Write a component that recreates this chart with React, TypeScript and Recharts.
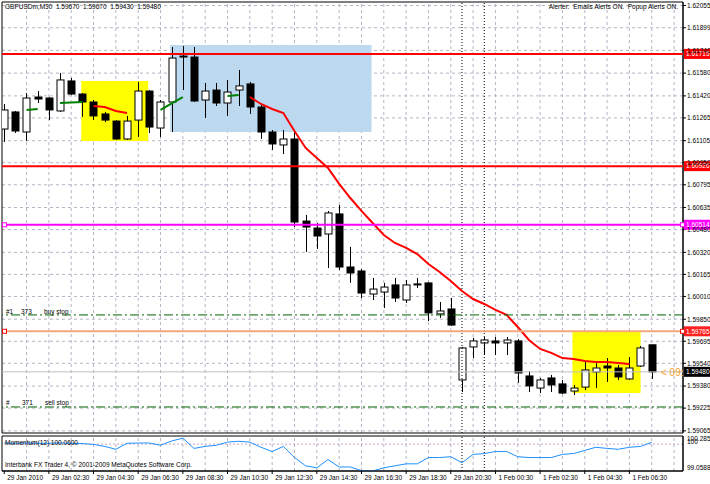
import React from 'react';
import { ComposedChart, Bar, Line, XAxis, YAxis, ReferenceLine, ReferenceArea } from 'recharts';

// GBPUSDm M30, 59 bars: 29 Jan 00:30 .. 1 Feb 07:30
const opens = [
  1.61187, 1.61307, 1.61166, 1.61412, 1.61405, 1.61314, 1.61525, 1.61433, 1.61377, 1.61293,
  1.61243, 1.61117, 1.6125, 1.61454, 1.61194, 1.61377, 1.61693, 1.61693, 1.61391, 1.61461,
  1.6137, 1.61461, 1.61504, 1.61342, 1.61166, 1.61075, 1.61117, 1.6054, 1.60491, 1.60449,
  1.6059, 1.60217, 1.60189, 1.60027, 1.60041, 1.60091, 1.59985, 1.60098, 1.60105, 1.59887,
  1.59922, 1.59423, 1.59655, 1.59683, 1.59697, 1.59683, 1.59697, 1.59451, 1.59366, 1.59437,
  1.59395, 1.59345, 1.59373, 1.59479, 1.59521, 1.59507, 1.5943, 1.59521, 1.5967,
];
const highs = [
  1.61363, 1.61314, 1.6144, 1.61454, 1.61412, 1.61581, 1.61546, 1.6144, 1.61391, 1.61307,
  1.6125, 1.61279, 1.61518, 1.61461, 1.61391, 1.61764, 1.61771, 1.61764, 1.61511, 1.61511,
  1.61532, 1.61602, 1.61518, 1.61356, 1.6118, 1.6118, 1.61173, 1.60583, 1.60526, 1.60611,
  1.60653, 1.60358, 1.60203, 1.6014, 1.60105, 1.6014, 1.60126, 1.6014, 1.60112, 1.59971,
  1.59999, 1.59655, 1.59718, 1.59725, 1.59725, 1.59725, 1.59711, 1.59486, 1.59437, 1.59458,
  1.59423, 1.59388, 1.59549, 1.59542, 1.59577, 1.59528, 1.59584, 1.59662, 1.5967,
];
const lows = [
  1.61096, 1.61159, 1.61103, 1.6137, 1.6125, 1.61307, 1.61426, 1.61272, 1.6125, 1.61236,
  1.6111, 1.6111, 1.61131, 1.61159, 1.61131, 1.61166, 1.61461, 1.61377, 1.61265, 1.61349,
  1.61279, 1.61349, 1.61293, 1.61117, 1.6104, 1.61011, 1.60498, 1.60323, 1.60344, 1.6021,
  1.60196, 1.60105, 1.59999, 1.59985, 1.59929, 1.59971, 1.59964, 1.60069, 1.59837, 1.59859,
  1.59802, 1.59338, 1.59577, 1.59598, 1.59598, 1.59598, 1.59402, 1.59338, 1.59331, 1.59338,
  1.59324, 1.59317, 1.59352, 1.59366, 1.59409, 1.59423, 1.59423, 1.59514, 1.5943,
];
const closes = [
  1.61321, 1.61173, 1.61405, 1.61398, 1.61321, 1.61532, 1.61433, 1.61377, 1.61279, 1.6125,
  1.61117, 1.61243, 1.61454, 1.61201, 1.61377, 1.61686, 1.617, 1.61384, 1.61454, 1.6137,
  1.61447, 1.6149, 1.61342, 1.61166, 1.61082, 1.61117, 1.60533, 1.60498, 1.60435, 1.60597,
  1.60217, 1.60175, 1.60034, 1.60062, 1.60076, 1.59999, 1.60091, 1.60095, 1.59894, 1.59908,
  1.59809, 1.59648, 1.59697, 1.59704, 1.59683, 1.59704, 1.59472, 1.59381, 1.59423, 1.59388,
  1.59331, 1.59366, 1.59493, 1.59507, 1.59507, 1.59444, 1.59507, 1.59648, 1.5948,
];

// trend indicator, drawn red while falling and green while rising (null = not drawn)
const redLine = [
  null, null, null, null, null, null, null, null, 1.61349, 1.61342,
  1.61314, 1.613, null, null, null, null, null, null, null, null,
  null, null, 1.61412, 1.61363, 1.61328, 1.613, 1.61173, 1.61054, 1.60983, 1.60913,
  1.60801, 1.60702, 1.60611, 1.60526, 1.60442, 1.60386, 1.60351, 1.60308, 1.60238, 1.60182,
  1.60119, 1.60048, 1.59992, 1.59957, 1.59915, 1.5988, 1.59795, 1.59704, 1.59641, 1.59613,
  1.59577, 1.5957, 1.59556, 1.59549, 1.59549, 1.59542, 1.59535, null, null,
];
const greenLine = [
  null, null, 1.61321, 1.61328, null, 1.6137, 1.61374, 1.61377, null, null,
  null, null, null, null, 1.61321, 1.61367, 1.61412, null, null, null,
  1.61419, 1.61426, null, null, null, null, null, null, null, null,
  null, null, null, null, null, null, null, null, null, null,
  null, null, null, null, null, null, null, null, null, null,
  null, null, null, null, null, null, null, null, null,
];

const momentum = [
  100.04, 100.03, 100.04, 100.03, 100.03, 100.04, 100.03, 100.02, 99.99, 99.92,
  99.82, 100.03, 100.04, 100.04, 99.96, 100.11, 100.21, 99.85, 99.92, 99.96,
  100.07, 100.1, 100.07, 99.89, 99.74, 99.92, 99.53, 99.24, 99.17, 99.46,
  99.2, 99.2, 99.07, 99.06, 99.17, 99.24, 99.31, 99.31, 99.53, 99.53,
  99.56, 99.35, 99.64, 99.67, 99.74, 99.74, 99.56, 99.53, 99.53, 99.53,
  99.64, 99.67, 99.78, 99.89, 99.85, 99.82, 99.89, 99.92, 100.06,
];

const priceTicks = [
  1.62055, 1.61899, 1.6174, 1.6158, 1.6142, 1.61265, 1.61105, 1.6095, 1.60795, 1.60635,
  1.6048, 1.6032, 1.60165, 1.6001, 1.5985, 1.59695, 1.5954, 1.5938, 1.59225, 1.59065,
];
const timeTickIdx = [0, 4, 8, 12, 16, 20, 24, 28, 32, 36, 40, 44, 48, 52, 56];
const timeTickLabels = [
  '29 Jan 2010', '29 Jan 02:30', '29 Jan 04:30', '29 Jan 06:30', '29 Jan 08:30',
  '29 Jan 10:30', '29 Jan 12:30', '29 Jan 14:30', '29 Jan 16:30', '29 Jan 18:30',
  '29 Jan 20:30', '1 Feb 00:30', '1 Feb 02:30', '1 Feb 04:30', '1 Feb 06:30',
];
const momTicks = [100.285, 100, 99.0588];
const momTickLabels = ['100.285', '100', '99.0588'];

// chart objects (time index / price anchors)
const yellowBox1 = [6.9, 12.9, 1.61525, 1.61103];
const blueBox = [14.86, 32.9, 1.61778, 1.61166];
const yellowBox2 = [50.9, 57.0, 1.59765, 1.59331];
const redLevels = [1.61715, 1.60926];
const magentaLevel = 1.60514;
const orangeLevel = 1.59765;
const buyStop = 1.5988;
const sellStop = 1.59233;
const bidPrice = 1.5948;
const separators = [41, 43];
const gridIdx = [2, 4, 6, 8, 10, 12, 14, 16, 18, 20, 22, 24, 26, 28, 30, 32, 34, 36, 38, 40, 42, 44, 46, 48, 50, 52, 54, 56, 58, 60];

const xDomain: [number, number] = [-0.2, 60.8];
const yDomain: [number, number] = [1.5905, 1.6208];
const momDomain: [number, number] = [99.0588, 100.285];

const font = '"Liberation Sans", Arial, sans-serif';
const gridColor = '#b4b4c6';

const bars = opens.map((o, i) => ({
  i,
  o,
  h: highs[i],
  l: lows[i],
  c: closes[i],
  range: [lows[i], highs[i]],
  red: redLine[i],
  green: greenLine[i],
}));
const momData = momentum.map((m, i) => ({ i, m }));

const Candle = (props: any) => {
  const { x, y, width, height, payload } = props;
  if (!payload || height == null) return null;
  const { o, h, l, c } = payload;
  const span = h - l || 1e-9;
  const py = (v: number) => y + ((h - v) / span) * height;
  const cx = Math.round(x + width / 2) + 0.5;
  const top = py(Math.max(o, c));
  const bot = py(Math.min(o, c));
  const up = c > o;
  return (
    <g>
      <line x1={cx} x2={cx} y1={y} y2={y + height} stroke="#000" strokeWidth={1} />
      <rect
        x={cx - 3.5}
        y={top}
        width={7}
        height={Math.max(bot - top, 1)}
        fill={up ? '#fff' : '#000'}
        stroke="#000"
        strokeWidth={1}
      />
    </g>
  );
};

const priceTag = (value: number, fill: string, handle?: string) => (props: any) => {
  const vb = props.viewBox || {};
  const x = vb.x ?? 0;
  const y = vb.y ?? 0;
  const right = x + (vb.width ?? 0);
  return (
    <g>
      {handle && <rect x={x + 0.5} y={y - 2} width={4} height={4} fill="#fff" stroke={handle} />}
      {handle && <rect x={right - 2.5} y={y - 2} width={4} height={4} fill="#fff" stroke={handle} />}
      <rect x={right + 1} y={y - 5} width={27} height={10} fill={fill} />
      <text x={right + 3} y={y} dy="0.36em" fill="#fff" fontSize={6.5} fontFamily={font}>
        {value.toFixed(5)}
      </text>
    </g>
  );
};

const PriceTick = (props: any) => {
  const { x, y, payload } = props;
  return (
    <text x={x} y={y} dy="0.36em" fontSize={6.5} fontFamily={font} fill="#000" textAnchor="start">
      {Number(payload.value).toFixed(5)}
    </text>
  );
};

const MomTick = (props: any) => {
  const { x, y, payload } = props;
  const k = momTicks.indexOf(payload.value);
  const shift = k === 0 ? 3 : k === 2 ? -3 : -2;
  return (
    <text x={x} y={y + shift} dy="0.36em" fontSize={6.5} fontFamily={font} fill="#000" textAnchor="start">
      {momTickLabels[k]}
    </text>
  );
};

const TimeTick = (props: any) => {
  const { x, y, payload } = props;
  const k = timeTickIdx.indexOf(payload.value);
  return (
    <text x={x + 3} y={y} dy="0.71em" fontSize={6.5} fontFamily={font} fill="#000" textAnchor="start">
      {timeTickLabels[k]}
    </text>
  );
};

const txt = (left: number, top: number, extra: React.CSSProperties = {}): React.CSSProperties => ({
  position: 'absolute',
  left,
  top,
  fontSize: 6.5,
  lineHeight: '8px',
  whiteSpace: 'pre',
  color: '#000',
  fontFamily: font,
  ...extra,
});

export default function App() {
  return (
    <div style={{ position: 'absolute', left: 0, top: 0, width: 710, height: 484, background: '#fff', overflow: 'hidden' }}>
      <div style={{ position: 'absolute', left: 0, top: 0 }}>
        <ComposedChart width={710} height={434} data={bars} margin={{ top: 2, right: 0, bottom: 1, left: 2 }}>
          <XAxis type="number" dataKey="i" domain={xDomain} hide allowDataOverflow />
          <YAxis
            type="number"
            orientation="right"
            width={27}
            domain={yDomain}
            ticks={priceTicks}
            interval={0}
            allowDataOverflow
            tick={<PriceTick />}
            tickSize={3}
            tickMargin={1}
            axisLine={{ stroke: '#000' }}
            tickLine={{ stroke: '#000' }}
          />
          {gridIdx.map((g) => (
            <ReferenceLine key={'vg' + g} x={g} stroke={gridColor} strokeDasharray="3 3" zIndex={-100} />
          ))}
          {priceTicks.map((p) => (
            <ReferenceLine key={'hg' + p} y={p} stroke={gridColor} strokeDasharray="3 3" zIndex={-100} />
          ))}
          <ReferenceArea x1={yellowBox1[0]} x2={yellowBox1[1]} y1={yellowBox1[2]} y2={yellowBox1[3]} fill="#ffff00" fillOpacity={1} />
          <ReferenceArea x1={blueBox[0]} x2={blueBox[1]} y1={blueBox[2]} y2={blueBox[3]} fill="#bcd9f0" fillOpacity={1} />
          <ReferenceArea x1={yellowBox2[0]} x2={yellowBox2[1]} y1={yellowBox2[2]} y2={yellowBox2[3]} fill="#ffff00" fillOpacity={1} />
          {separators.map((s) => (
            <ReferenceLine key={'sep' + s} x={s} stroke="#000" strokeDasharray="1 2" />
          ))}
          <ReferenceLine y={bidPrice} stroke="#c0c0c0" zIndex={600} label={priceTag(bidPrice, '#000')} />
          <Bar dataKey="range" barSize={7} isAnimationActive={false} shape={(p: any) => <Candle {...p} />} />
          <Line dataKey="green" stroke="#008000" strokeWidth={2} dot={false} activeDot={false} isAnimationActive={false} connectNulls={false} />
          <Line dataKey="red" stroke="#ff0000" strokeWidth={2} dot={false} activeDot={false} isAnimationActive={false} connectNulls={false} />
          {redLevels.map((r) => (
            <ReferenceLine key={'rl' + r} y={r} stroke="#ff0000" strokeWidth={2} zIndex={600} label={priceTag(r, '#ff0000')} />
          ))}
          <ReferenceLine y={magentaLevel} stroke="#ff00ff" strokeWidth={2} zIndex={600} label={priceTag(magentaLevel, '#ff00ff', '#ff00ff')} />
          <ReferenceLine y={orangeLevel} stroke="#f4a77c" strokeWidth={2} zIndex={600} label={priceTag(orangeLevel, '#ff2020', '#ff0000')} />
          <ReferenceLine y={buyStop} stroke="#006400" strokeDasharray="9 3 2 3" />
          <ReferenceLine y={sellStop} stroke="#006400" strokeDasharray="9 3 2 3" />
          <ReferenceArea x1={xDomain[0]} x2={xDomain[1]} y1={yDomain[0]} y2={yDomain[1]} fill="none" stroke="#000" />
        </ComposedChart>
      </div>
      <div style={{ position: 'absolute', left: 0, top: 434 }}>
        <ComposedChart width={710} height={50} data={momData} margin={{ top: 2, right: 0, bottom: 0, left: 2 }}>
          <XAxis
            type="number"
            dataKey="i"
            domain={xDomain}
            allowDataOverflow
            ticks={timeTickIdx}
            interval={0}
            height={13}
            tick={<TimeTick />}
            tickSize={3}
            tickMargin={1}
            axisLine={{ stroke: '#000' }}
            tickLine={{ stroke: '#000' }}
          />
          <YAxis
            type="number"
            orientation="right"
            width={27}
            domain={momDomain}
            ticks={momTicks}
            interval={0}
            allowDataOverflow
            tick={<MomTick />}
            tickSize={3}
            tickMargin={1}
            axisLine={{ stroke: '#000' }}
            tickLine={false}
          />
          {gridIdx.map((g) => (
            <ReferenceLine key={'mvg' + g} x={g} stroke={gridColor} strokeDasharray="3 3" zIndex={-100} />
          ))}
          {separators.map((s) => (
            <ReferenceLine key={'msep' + s} x={s} stroke="#000" strokeDasharray="1 2" />
          ))}
          <ReferenceLine y={100} stroke="#c8a8c8" strokeDasharray="2 2" zIndex={-100} />
          <Line dataKey="m" stroke="#1e90ff" strokeWidth={1} dot={false} activeDot={false} isAnimationActive={false} />
          <ReferenceArea x1={xDomain[0]} x2={xDomain[1]} y1={momDomain[0]} y2={momDomain[1]} fill="none" stroke="#000" />
        </ComposedChart>
      </div>
      <div style={txt(5, 3)}>GBPUSDm,M30  1.59670  1.59670  1.59430  1.59480</div>
      <div style={txt(0, 3, { left: undefined, right: 32 })}>Alerter:  Emails Alerts ON.  Popup Alerts ON.</div>
      <div style={txt(6, 308)}>#1</div>
      <div style={txt(21, 308)}>373</div>
      <div style={txt(44, 308)}>buy stop</div>
      <div style={txt(6, 399)}>#</div>
      <div style={txt(22, 399)}>371</div>
      <div style={txt(45, 399)}>sell stop</div>
      <div style={txt(661, 367, { fontSize: 10, lineHeight: '12px', color: '#f5a030' })}>{'< 09:'}</div>
      <div style={txt(5, 439)}>Momentum(12) 100.0600</div>
      <div style={txt(5, 461)}>Interbank FX Trader 4, © 2001-2009 MetaQuotes Software Corp.</div>
    </div>
  );
}
